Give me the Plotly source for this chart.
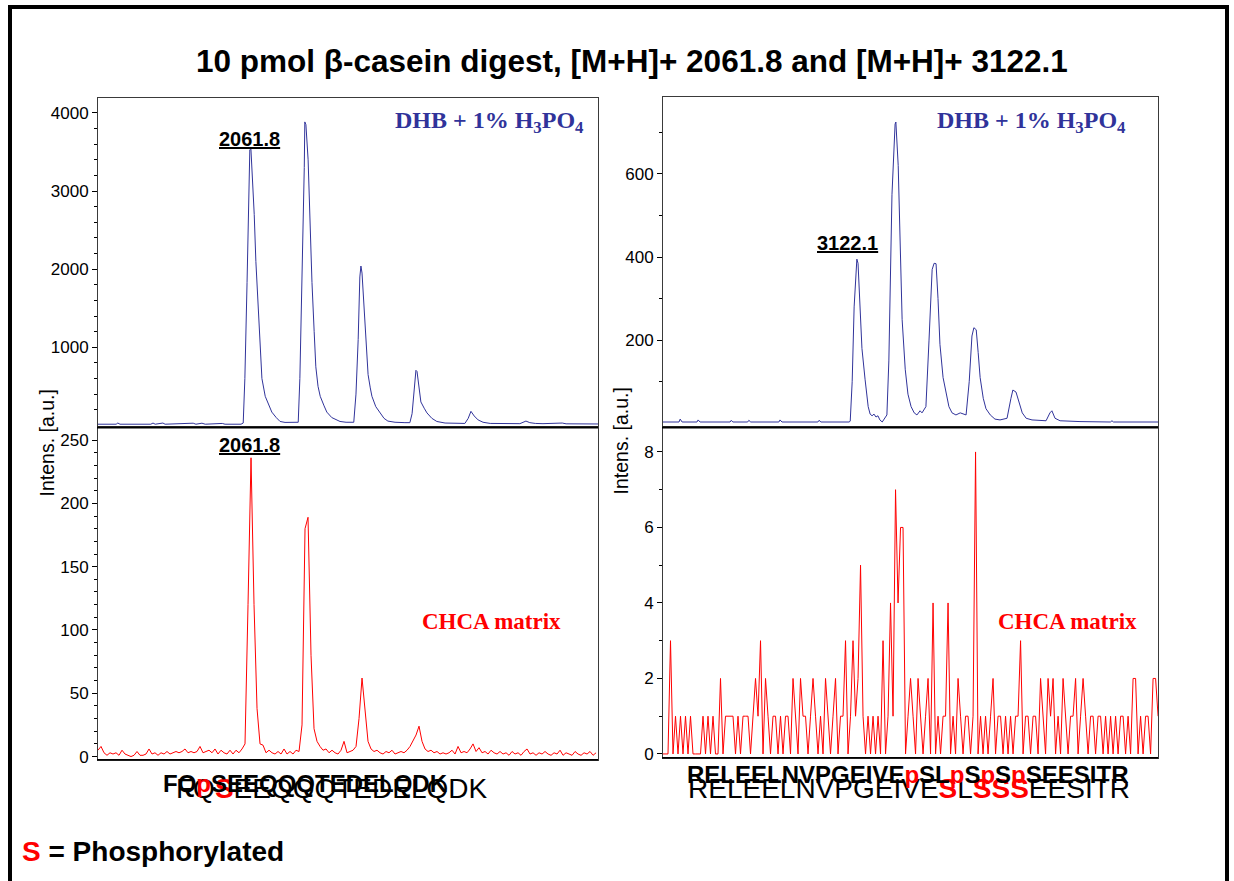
import plotly.graph_objects as go
import numpy as np

W, H = 1234, 881

# ---------------- data ----------------
# Left top: DHB + 1% H3PO4, [M+H]+ 2061.8 isotope cluster (m/z, intensity)
lt_mz = [2059.02, 2059.35, 2059.38, 2059.42, 2059.98, 2060.02, 2060.06, 2060.20, 2060.24,
         2060.75, 2060.80, 2060.91, 2060.97, 2061.28, 2061.33, 2061.62,
         2061.66, 2061.69, 2061.73, 2061.77, 2061.78, 2061.80, 2061.82, 2061.86, 2061.89,
         2061.93, 2061.97, 2062.00, 2062.06, 2062.11, 2062.18, 2062.26, 2062.33, 2062.42, 2062.60,
         2062.66, 2062.69, 2062.73, 2062.77, 2062.78, 2062.80, 2062.84, 2062.87, 2062.91,
         2062.95, 2062.98, 2063.02, 2063.06, 2063.13, 2063.18, 2063.27, 2063.35, 2063.42,
         2063.53, 2063.66,
         2063.67, 2063.71, 2063.75, 2063.78, 2063.80, 2063.82, 2063.86, 2063.89, 2063.93,
         2063.97, 2064.00, 2064.07, 2064.15, 2064.22, 2064.29, 2064.37, 2064.42, 2064.60,
         2064.69, 2064.73, 2064.77, 2064.80, 2064.82, 2064.86, 2064.89, 2064.95, 2065.00,
         2065.09, 2065.18, 2065.33,
         2065.69, 2065.75, 2065.80, 2065.86, 2065.93, 2066.02, 2066.15,
         2066.69, 2066.77, 2066.80, 2066.87, 2066.97, 2067.11, 2067.46, 2067.53, 2068.11]
lt_int = [15, 15, 30, 15, 15, 30, 15, 30, 15,
          28, 15, 28, 15, 25, 15, 15,
          30, 600, 1830, 3100, 3530, 3540, 3300, 2700, 2100,
          1500, 900, 600, 372, 290, 170, 100, 50, 38, 38,
          40, 600, 1830, 3300, 3885, 3850, 3400, 2600, 1830,
          1200, 750, 500, 372, 250, 170, 100, 70, 50,
          40, 40,
          40, 400, 1100, 1900, 2040, 1950, 1450, 1000, 650,
          480, 372, 240, 167, 90, 55, 45, 40, 35,
          35, 150, 500, 705, 690, 420, 300, 220, 160,
          90, 50, 30,
          25, 90, 180, 120, 70, 40, 25,
          22, 40, 55, 35, 25, 22, 30, 20, 18]

# Left bottom: CHCA matrix, sampled every 0.0545 Da from m/z 2059.02
lb_mz_start = 2059.02
lb_mz_step = 3 / 55
lb_int = [5, 8, 3, 1, 3, 2, 3, 1, 5, 2, 1, 0, 1, 4, 1, 1, 2, 6, 2, 3,
          1, 3, 2, 4, 2, 3, 4, 3, 4, 6, 3, 4, 3, 4, 8, 3, 4, 5, 3, 6,
          2, 5, 3, 2, 5, 2, 5, 3, 6, 10, 120, 236, 120, 38, 10, 9, 3, 5, 3, 2,
          4, 2, 6, 2, 4, 2, 5, 4, 25, 180, 189, 80, 22, 12, 8, 5, 6, 3, 5, 3,
          2, 5, 12, 3, 4, 5, 8, 30, 62, 35, 12, 6, 4, 5, 3, 2, 4, 3, 5, 2,
          3, 4, 3, 5, 8, 13, 17, 24, 12, 6, 4, 5, 3, 4, 2, 3, 2, 3, 5, 2,
          8, 3, 4, 3, 6, 10, 4, 7, 3, 4, 2, 5, 3, 2, 4, 2, 3, 1, 4, 2,
          3, 1, 4, 6, 2, 3, 1, 3, 2, 4, 2, 1, 3, 2, 5, 1, 3, 2, 1, 4,
          2, 1, 3, 2, 4, 1, 3]

# Right top: DHB + 1% H3PO4, [M+H]+ 3122.1 isotope cluster (m/z, intensity)
rt_mz = [3117.13, 3117.54, 3117.57, 3117.62, 3118.00, 3118.03, 3118.08, 3118.85, 3118.88, 3118.92,
         3119.30, 3119.33, 3119.38, 3120.10, 3120.13, 3120.18, 3121.10, 3121.13, 3121.18,
         3121.90, 3121.93, 3121.98, 3122.03, 3122.08, 3122.10, 3122.13, 3122.18, 3122.23,
         3122.31, 3122.39, 3122.44, 3122.49, 3122.54, 3122.59, 3122.64, 3122.69, 3122.75,
         3122.80, 3122.87, 3122.92, 3123.00, 3123.08, 3123.10, 3123.16, 3123.21, 3123.26,
         3123.34, 3123.41, 3123.49, 3123.57, 3123.64, 3123.72, 3123.77,
         3123.87, 3123.95, 3124.03, 3124.08, 3124.13, 3124.18, 3124.23, 3124.31, 3124.39,
         3124.46, 3124.54, 3124.64, 3124.75,
         3124.90, 3124.98, 3125.05, 3125.10, 3125.16, 3125.21, 3125.26, 3125.34, 3125.41,
         3125.52, 3125.64, 3125.77,
         3125.95, 3126.05, 3126.10, 3126.18, 3126.26, 3126.34, 3126.44, 3126.59,
         3126.95, 3127.05, 3127.10, 3127.18, 3127.31, 3127.82, 3128.60, 3128.64, 3128.68,
         3129.82]
rt_int = [3, 3, 10, 3, 3, 8, 3, 3, 7, 3,
          3, 7, 3, 3, 8, 3, 3, 7, 3,
          3, 5, 100, 280, 390, 395, 385, 280, 180,
          106, 40, 22, 18, 22, 15, 18, 8, 3,
          10, 20, 150, 550, 720, 725, 620, 420, 250,
          130, 70, 40, 25, 20, 30, 25,
          40, 200, 370, 385, 384, 300, 190, 110, 70,
          40, 25, 20, 25,
          20, 100, 210, 230, 225, 170, 110, 60, 35,
          20, 10, 8,
          12, 60, 80, 75, 50, 25, 12, 8,
          6, 25, 30, 12, 6, 4, 3, 6, 3,
          3]

# Right bottom: CHCA matrix, sampled every 0.0641 Da from m/z 3117.13
rb_mz_start = 3117.13
rb_mz_step = 2.5 / 39
rb_int = [0, 0, 0, 3, 0, 1, 0, 1, 0, 1,
          0, 1, 0, 0, 0, 0, 1, 0, 1, 0,
          1, 0, 0, 2, 0, 1, 1, 1, 1, 0,
          1, 0, 1, 1, 1, 0, 1, 2, 1, 3,
          0, 2, 1, 0, 1, 1, 0, 1, 0, 1,
          1, 0, 2, 1, 0, 2, 1, 1, 0, 1,
          2, 1, 0, 1, 0, 2, 1, 0, 1, 2,
          0, 1, 1, 3, 0, 1, 3, 1, 2, 5,
          1, 0, 1, 0, 1, 0, 1, 0, 3, 0,
          1, 4, 1, 7, 4, 6, 6, 0, 1, 2,
          1, 0, 2, 1, 0, 1, 2, 0, 4, 0,
          1, 0, 1, 1, 4, 0, 1, 0, 2, 1,
          0, 1, 1, 0, 1, 8, 0, 1, 0, 1,
          0, 1, 2, 0, 1, 1, 0, 1, 0, 1,
          0, 1, 1, 3, 0, 1, 1, 0, 1, 1,
          0, 2, 1, 0, 2, 1, 2, 0, 1, 0,
          2, 1, 0, 1, 1, 2, 0, 1, 2, 1,
          0, 1, 1, 0, 1, 1, 0, 1, 0, 1,
          0, 1, 0, 1, 1, 0, 1, 0, 2, 2,
          0, 1, 0, 1, 1, 0, 2, 2, 1]

lb_mz = lb_mz_start + lb_mz_step * np.arange(len(lb_int))
rb_mz = rb_mz_start + rb_mz_step * np.arange(len(rb_int))

# tick labels
lt_ticks = [1000, 2000, 3000, 4000]
lb_ticks = [0, 50, 100, 150, 200, 250]
rt_ticks = [200, 400, 600]
rb_ticks = [0, 2, 4, 6, 8]

# ---------------- styling ----------------
BLUE = "#30339a"
RED = "#ff0000"
SANS = "Liberation Sans, Arial, sans-serif"
SERIF = "Liberation Serif, Times New Roman, serif"
FRAME = "#3a3a3a"


def px(x):
    return x / W


def py(y):
    # small vertical compensation observed in rendering
    return 1 - ((y - 1) / 0.9911) / H


fig = go.Figure()
fig.add_trace(go.Scatter(x=lt_mz, y=lt_int, mode="lines", line=dict(color=BLUE, width=1),
                         xaxis="x", yaxis="y", hoverinfo="skip"))
fig.add_trace(go.Scatter(x=lb_mz, y=lb_int, mode="lines", line=dict(color=RED, width=1),
                         xaxis="x2", yaxis="y2", hoverinfo="skip"))
fig.add_trace(go.Scatter(x=rt_mz, y=rt_int, mode="lines", line=dict(color=BLUE, width=1),
                         xaxis="x3", yaxis="y3", hoverinfo="skip"))
fig.add_trace(go.Scatter(x=rb_mz, y=rb_int, mode="lines", line=dict(color=RED, width=1),
                         xaxis="x4", yaxis="y4", hoverinfo="skip"))

xcommon = dict(showticklabels=False, ticks="", showgrid=False, zeroline=False,
               showline=True, mirror=True, linecolor=FRAME, linewidth=1)
ycommon = dict(showgrid=False, zeroline=False, showline=True, mirror=True,
               linecolor=FRAME, linewidth=1, ticks="outside", ticklen=5,
               tickcolor="black", tickwidth=1,
               tickfont=dict(family=SANS, size=17, color="black"))

left_dom = [px(98), px(598)]
right_dom = [px(663), px(1158)]

fig.update_layout(
    width=W, height=H, margin=dict(l=0, r=0, t=0, b=0),
    paper_bgcolor="white", plot_bgcolor="white", showlegend=False,
    xaxis=dict(domain=left_dom, range=[2059.02, 2068.11], anchor="y", **xcommon),
    yaxis=dict(domain=[py(428), py(99)], range=[-26, 4190], anchor="x",
               tickmode="array", tickvals=lt_ticks,
               minor=dict(tickmode="array", tickvals=list(range(200, 4200, 200)),
                          ticks="outside", ticklen=3, tickcolor="black"),
               **ycommon),
    xaxis2=dict(domain=left_dom, range=[2059.02, 2068.11], anchor="y2", **xcommon),
    yaxis2=dict(domain=[py(760), py(428)], range=[-2.5, 260], anchor="x2",
                tickmode="array", tickvals=lb_ticks,
                minor=dict(tickmode="array", tickvals=list(range(10, 260, 10)),
                           ticks="outside", ticklen=3, tickcolor="black"),
                **ycommon),
    xaxis3=dict(domain=right_dom, range=[3117.13, 3129.82], anchor="y3", **xcommon),
    yaxis3=dict(domain=[py(428), py(98)], range=[-10, 785], anchor="x3",
                tickmode="array", tickvals=rt_ticks,
                minor=dict(tickmode="array", tickvals=[100, 300, 500, 700],
                           ticks="outside", ticklen=3, tickcolor="black"),
                **ycommon),
    xaxis4=dict(domain=right_dom, range=[3117.13, 3129.82], anchor="y4", **xcommon),
    yaxis4=dict(domain=[py(758), py(428)], range=[-0.1, 8.65], anchor="x4",
                tickmode="array", tickvals=rb_ticks,
                minor=dict(tickmode="array", tickvals=[1, 3, 5, 7],
                           ticks="outside", ticklen=3, tickcolor="black"),
                **ycommon),
)

shapes = [
    # outer frame
    dict(type="rect", xref="paper", yref="paper", x0=px(10), x1=px(1227), y0=py(905), y1=py(8),
         line=dict(color="black", width=4), fillcolor="rgba(0,0,0,0)", layer="above"),
    # separators between top and bottom panels
    dict(type="line", xref="paper", yref="paper", x0=px(97), x1=px(598), y0=py(428), y1=py(428),
         line=dict(color="black", width=2), layer="above"),
    dict(type="line", xref="paper", yref="paper", x0=px(662), x1=px(1158), y0=py(428), y1=py(428),
         line=dict(color="black", width=2), layer="above"),
    # bottom edges
    dict(type="line", xref="paper", yref="paper", x0=px(97), x1=px(598), y0=py(760), y1=py(760),
         line=dict(color="black", width=1.5), layer="above"),
    dict(type="line", xref="paper", yref="paper", x0=px(662), x1=px(1158), y0=py(758), y1=py(758),
         line=dict(color="black", width=1.5), layer="above"),
]
fig.update_layout(shapes=shapes)

ann = []


def add_text(text, x, y, size, family=SANS, color="black", angle=0, xanchor="center"):
    ann.append(dict(text=text, x=px(x), y=py(y), xref="paper", yref="paper", showarrow=False,
                    xanchor=xanchor, yanchor="middle", textangle=angle,
                    font=dict(family=family, size=size, color=color)))


add_text("<b>10 pmol β-casein digest, [M+H]+ 2061.8 and [M+H]+ 3122.1</b>", 632, 62, 31.5)
add_text("<b>DHB + 1% H<sub>3</sub>PO<sub>4</sub></b>", 489, 123, 24, SERIF, BLUE)
add_text("<b>DHB + 1% H<sub>3</sub>PO<sub>4</sub></b>", 1031, 123, 24, SERIF, BLUE)
add_text("<b>CHCA matrix</b>", 491, 622, 23, SERIF, RED)
add_text("<b>CHCA matrix</b>", 1067, 622, 23, SERIF, RED)
add_text("<b><u>2061.8</u></b>", 249, 140, 20)
add_text("<b><u>2061.8</u></b>", 249, 446, 20)
add_text("<b><u>3122.1</u></b>", 847, 244, 20)
add_text("Intens. [a.u.]", 47, 444, 19.5, angle=-90)
add_text("Intens. [a.u.]", 621, 442, 19.5, angle=-90)

# peptide sequences (the two renderings overlap, as in the original slide)
add_text("FQ<span style='color:red'><b>S</b></span>EEQQQTEDELQDK", 332, 789, 28)
add_text("<b>FQ<span style='color:red'>p</span>SEEQQQTEDELQDK</b>", 305, 784, 24)
add_text("RELEELNVPGEIVE<span style='color:red'><b>S</b></span>L"
         "<span style='color:red'><b>SSS</b></span>EESITR", 909, 789, 28)
add_text("<b>RELEELNVPGEIVE<span style='color:red'>p</span>SL<span style='color:red'>p</span>S"
         "<span style='color:red'>p</span>S<span style='color:red'>p</span>SEESITR</b>", 907, 775, 24)

add_text("<b><span style='color:red'>S</span> = Phosphorylated</b>", 20, 852, 28, xanchor="left")

fig.update_layout(annotations=ann)

fig.write_html("out.html")
